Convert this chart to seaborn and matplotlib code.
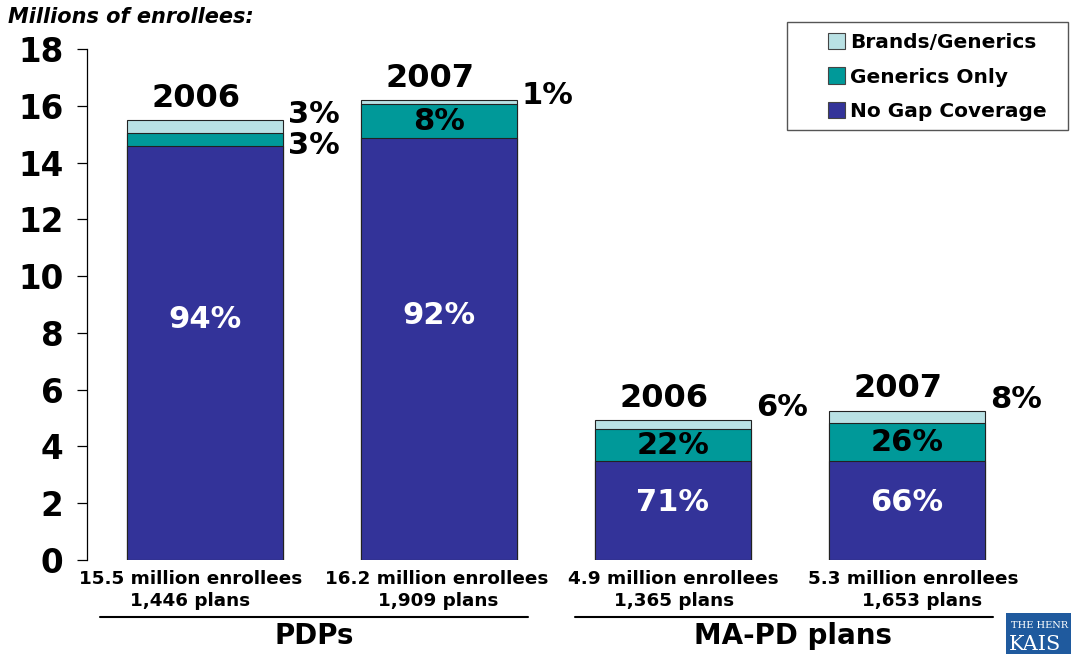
import matplotlib
matplotlib.use("Agg")
import matplotlib.pyplot as plt
import matplotlib.transforms as mtransforms
from matplotlib.patches import Patch, Rectangle
import numpy as np
import pandas as pd
import seaborn as sns

# ---------------- data ----------------
bar_ids = ["PDP 2006", "PDP 2007", "MA-PD 2006", "MA-PD 2007"]
years = ["2006", "2007", "2006", "2007"]
enrollee_labels = ["15.5 million enrollees", "16.2 million enrollees",
                   "4.9 million enrollees", "5.3 million enrollees"]
plan_labels = ["1,446 plans", "1,909 plans", "1,365 plans", "1,653 plans"]
no_gap = [14.60, 14.85, 3.50, 3.47]
generics_only = [0.44, 1.22, 1.10, 1.36]
brands_generics = [0.46, 0.13, 0.34, 0.43]
pct_no_gap = ["94%", "92%", "71%", "66%"]
pct_generics = ["3%", "8%", "22%", "26%"]
pct_brands = ["3%", "1%", "6%", "8%"]
groups = ["PDPs", "MA-PD plans"]
series_names = ["Brands/Generics", "Generics Only", "No Gap Coverage"]
colors = ["#B9E1E4", "#009999", "#333399"]

# ---------------- figure ----------------
sns.set_theme(style="white")
plt.rcParams["font.family"] = ["DejaVu Sans"]
plt.rcParams["font.weight"] = "bold"
plt.rcParams["text.color"] = "black"
plt.rcParams["xtick.color"] = "black"
plt.rcParams["ytick.color"] = "black"

fig = plt.figure(figsize=(10.71, 6.54), dpi=100)
ax = fig.add_axes([87 / 1071, 1 - 560 / 654, (1050 - 87) / 1071, (560 - 49) / 654])

df = pd.DataFrame({"bar": bar_ids, "no_gap": no_gap,
                   "gen": generics_only, "brand": brands_generics})
df["cum_gen"] = df["no_gap"] + df["gen"]
df["cum_total"] = df["cum_gen"] + df["brand"]

width = 0.667
for col, c in zip(["cum_total", "cum_gen", "no_gap"], colors):
    sns.barplot(data=df, x="bar", y=col, order=bar_ids, color=c,
                width=width, edgecolor="#222222", linewidth=0.8,
                saturation=1, ax=ax, errorbar=None)

ax.set_xlim(-0.504, 3.611)
ax.set_ylim(0, 18)
ax.set_yticks(np.arange(0, 19, 2))
ax.set_yticklabels([str(v) for v in range(0, 19, 2)], fontsize=23.5,
                   fontweight="bold", color="black")
ax.set_xticks(range(4))
ax.set_xticklabels([""] * 4)
ax.set_xlabel("")
ax.set_ylabel("")
for s in ["top", "right", "bottom"]:
    ax.spines[s].set_visible(False)
ax.spines["left"].set_color("black")
ax.spines["left"].set_linewidth(0.9)
ax.tick_params(axis="y", which="both", left=True, length=7, width=0.9,
               color="black", pad=10, direction="out")
ax.tick_params(axis="x", which="both", bottom=False)

trans = mtransforms.blended_transform_factory(ax.transData, ax.transAxes)

# two-line category labels under the bars
line1_dx = [-0.06, -0.01, 0.0, 0.025]
line2_dx = [-0.065, -0.005, 0.005, 0.065]
for i in range(4):
    ax.text(i + line1_dx[i], -0.037, enrollee_labels[i], ha="center", va="center",
            fontsize=13.2, fontweight="bold", transform=trans, color="black")
    ax.text(i + line2_dx[i], -0.080, plan_labels[i], ha="center", va="center",
            fontsize=13.2, fontweight="bold", transform=trans, color="black")

# ---------------- annotations ----------------
brand_offsets = [0.0, 0.15, 0.42, 0.40]
for i in range(4):
    ng = df["no_gap"][i]
    cg = df["cum_gen"][i]
    tot = df["cum_total"][i]
    ax.text(i - 0.04, tot + 0.22, years[i], ha="center", va="bottom",
            fontsize=23, fontweight="bold", color="black")
    ax.text(i, ng * 0.58, pct_no_gap[i], ha="center", va="center",
            fontsize=22, fontweight="bold", color="white")
    right = i + width / 2 + 0.02
    if i == 0:
        ax.text(right, tot + 0.2, pct_brands[i], ha="left", va="center",
                fontsize=22, fontweight="bold", color="black")
        ax.text(right, ng - 0.0, pct_generics[i], ha="left", va="center",
                fontsize=22, fontweight="bold", color="black")
    else:
        ax.text(i, (ng + cg) / 2, pct_generics[i], ha="center", va="center",
                fontsize=22, fontweight="bold", color="black")
        ax.text(right, tot + brand_offsets[i], pct_brands[i], ha="left", va="center",
                fontsize=22, fontweight="bold", color="black")

# group labels with lines
group_spans = [(-0.449, 1.38), (1.581, 3.368)]
group_text_x = [0.466, 2.513]
for g, (x0, x1), tx in zip(groups, group_spans, group_text_x):
    ax.plot([x0, x1], [-0.111, -0.111], color="black", lw=1.5,
            transform=trans, clip_on=False)
    ax.text(tx, -0.148, g, ha="center", va="center",
            fontsize=20, fontweight="bold", transform=trans, color="black")

# y-axis caption
fig.text(8 / 1071, 1 - 17 / 654, "Millions of enrollees:", ha="left", va="center",
         fontsize=15, fontweight="bold", style="italic", color="black")

# legend: separate frame + frameless legend
fig.add_artist(Rectangle((787 / 1071, 1 - 130 / 654), (1068 - 787) / 1071,
                         (130 - 22) / 654, transform=fig.transFigure,
                         facecolor="white", edgecolor="#555555", linewidth=1.0))
handles = [Patch(facecolor=c, edgecolor="#444444", linewidth=0.8) for c in colors]
leg = fig.legend(handles, series_names, loc="center left",
                 bbox_to_anchor=(828 / 1071, 1 - 77 / 654),
                 frameon=False, fontsize=14.5,
                 handlelength=0.85, handleheight=0.85, handletextpad=0.25,
                 labelspacing=0.75, borderpad=0, borderaxespad=0)
for t in leg.get_texts():
    t.set_fontweight("bold")
    t.set_color("black")

# logo fragment (as visible at the edge)
fig.add_artist(Rectangle((1006 / 1071, 0), 0.1, (654 - 613) / 654,
                         transform=fig.transFigure, facecolor="#1F5A9E",
                         edgecolor="none"))
fig.text(1011 / 1071, 1 - 625 / 654, "THE HENR", color="white",
         fontsize=7, family="DejaVu Serif", fontweight="normal", va="center")
fig.text(1009 / 1071, 1 - 645 / 654, "KAIS", color="white",
         fontsize=15, family="DejaVu Serif", fontweight="normal", va="center")

fig.savefig("out.png", dpi=100)
